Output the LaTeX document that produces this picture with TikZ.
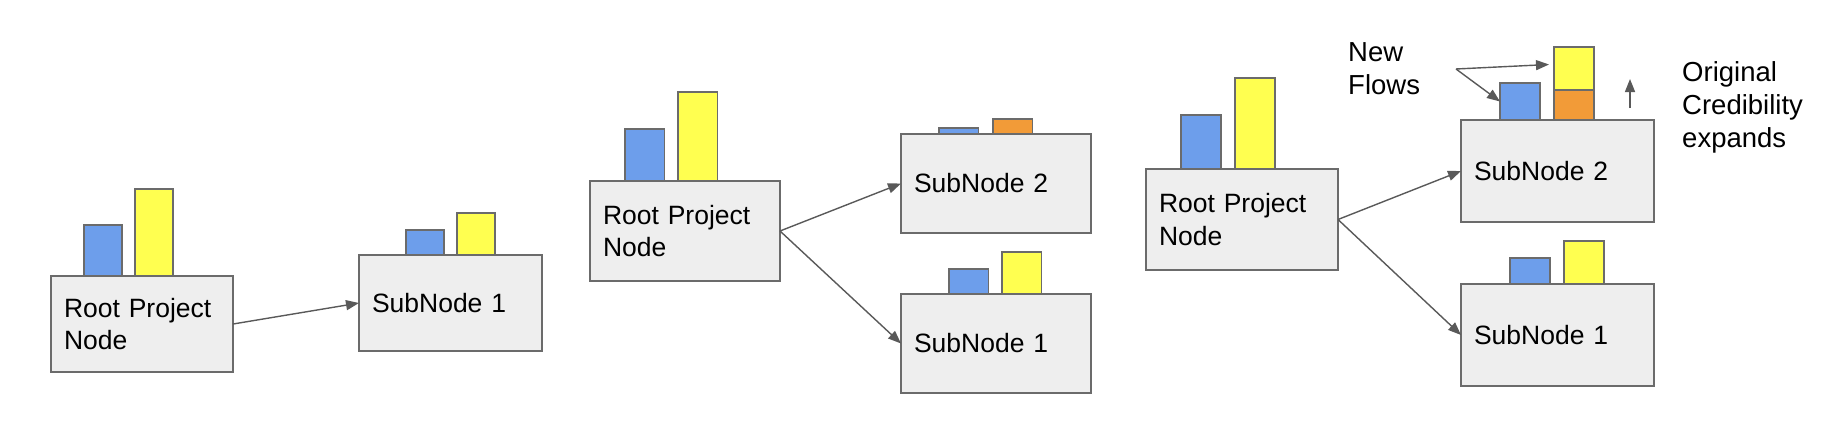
\documentclass[tikz,border=0pt]{standalone}
\usepackage{fontspec}
\setmainfont{Liberation Sans}
\usepackage{tikz}
\usetikzlibrary{arrows.meta,positioning}
\definecolor{boxfill}{HTML}{EEEEEE}
\definecolor{edge}{HTML}{6B6B6B}
\definecolor{flowblue}{HTML}{6D9EEB}
\definecolor{flowyellow}{HTML}{FFFF50}
\definecolor{floworange}{HTML}{F29B38}
\definecolor{linkgray}{HTML}{595959}

\begin{document}
\begin{tikzpicture}[x=1pt,y=-1pt,
  proj/.style={draw=edge,fill=boxfill,line width=1.4pt,outer sep=0pt,inner xsep=13pt,inner ysep=0pt,align=left,font=\fontsize{26.5}{32.5}\selectfont},
  bar/.style={draw=edge,line width=1.4pt,outer sep=0pt,inner sep=0pt,anchor=south west},
  link/.style={draw=linkgray,line width=1.4pt,-{Triangle[length=13pt,width=10pt]}},
  lbl/.style={font=\fontsize{27.5}{33}\selectfont,align=left,inner sep=0pt,anchor=north west}]
\useasboundingbox (0,0) rectangle (1836,434);
\node[proj,minimum width=182pt,text width=156pt,minimum height=96pt] (root1) at (142,324) {Root Project\\Node};
\node[proj,minimum width=183pt,text width=157pt,minimum height=96pt] (sub1) at (450.5,303) {SubNode 1};
\node[bar,fill=flowblue,minimum width=38pt,minimum height=51pt] (root1b) at ([xshift=33pt]root1.north west) {};
\node[bar,fill=flowyellow,minimum width=38pt,minimum height=87pt] (root1y) at ([xshift=84pt]root1.north west) {};
\node[bar,fill=flowblue,minimum width=38pt,minimum height=25pt] (sub1b) at ([xshift=47pt]sub1.north west) {};
\node[bar,fill=flowyellow,minimum width=38pt,minimum height=42pt] (sub1y) at ([xshift=98pt]sub1.north west) {};
\draw[link] (root1.east) -- (sub1.west);

\node[proj,minimum width=190pt,text width=164pt,minimum height=100pt] (root2) at (685,231) {Root Project\\Node};
\node[proj,minimum width=190pt,text width=164pt,minimum height=99pt] (sub2s) at (996,183.5) {SubNode 2};
\node[proj,minimum width=190pt,text width=164pt,minimum height=99pt] (sub2f) at (996,343.5) {SubNode 1};
\node[bar,fill=flowblue,minimum width=39.5pt,minimum height=52pt] (root2b) at ([xshift=35pt]root2.north west) {};
\node[bar,fill=flowyellow,minimum width=39.5pt,minimum height=89pt] (root2y) at ([xshift=88pt]root2.north west) {};
\node[bar,fill=flowblue,minimum width=39.5pt,minimum height=6pt] (sub2sb) at ([xshift=38pt]sub2s.north west) {};
\node[bar,fill=floworange,minimum width=39.5pt,minimum height=15pt] (sub2so) at ([xshift=92pt]sub2s.north west) {};
\node[bar,fill=flowblue,minimum width=39.5pt,minimum height=25pt] (sub2fb) at ([xshift=48pt]sub2f.north west) {};
\node[bar,fill=flowyellow,minimum width=39.5pt,minimum height=42pt] (sub2fy) at ([xshift=101pt]sub2f.north west) {};
\draw[link] (root2.east) -- (sub2s.west);
\draw[link] (root2.east) -- (sub2f.west);

\node[proj,minimum width=192pt,text width=166pt,minimum height=101pt] (root3) at (1242,219.5) {Root Project\\Node};
\node[proj,minimum width=193pt,text width=167pt,minimum height=102pt] (sub3s) at (1557.5,171) {SubNode 2};
\node[proj,minimum width=193pt,text width=167pt,minimum height=102pt] (sub3f) at (1557.5,335) {SubNode 1};
\node[bar,fill=flowblue,minimum width=40pt,minimum height=54pt] (root3b) at ([xshift=35pt]root3.north west) {};
\node[bar,fill=flowyellow,minimum width=40pt,minimum height=91pt] (root3y) at ([xshift=89pt]root3.north west) {};
\node[bar,fill=flowblue,minimum width=40pt,minimum height=37pt] (sub3sb) at ([xshift=39pt]sub3s.north west) {};
\node[bar,fill=floworange,minimum width=40pt,minimum height=30pt] (sub3so) at ([xshift=93pt]sub3s.north west) {};
\node[bar,fill=flowyellow,minimum width=40pt,minimum height=43pt] (sub3sy) at (sub3so.north west) {};
\node[bar,fill=flowblue,minimum width=40pt,minimum height=26pt] (sub3fb) at ([xshift=49pt]sub3f.north west) {};
\node[bar,fill=flowyellow,minimum width=40pt,minimum height=43pt] (sub3fy) at ([xshift=103pt]sub3f.north west) {};
\draw[link] (root3.east) -- (sub3s.west);
\draw[link] (root3.east) -- (sub3f.west);

\node[lbl] (newflows) at (1348,42) {New\\Flows};
\coordinate (fork) at (1456,69);
\draw[link] (fork) -- ([xshift=-5pt,yshift=4pt]sub3sy.west);
\draw[link] (fork) -- (sub3sb.west);
\coordinate (grow0) at (1630,108);
\coordinate (grow1) at (1630,79);
\draw[link] (grow0) -- (grow1);
\node[lbl] (expands) at (1682,61.5) {Original\\Credibility\\expands};
\end{tikzpicture}
\end{document}
